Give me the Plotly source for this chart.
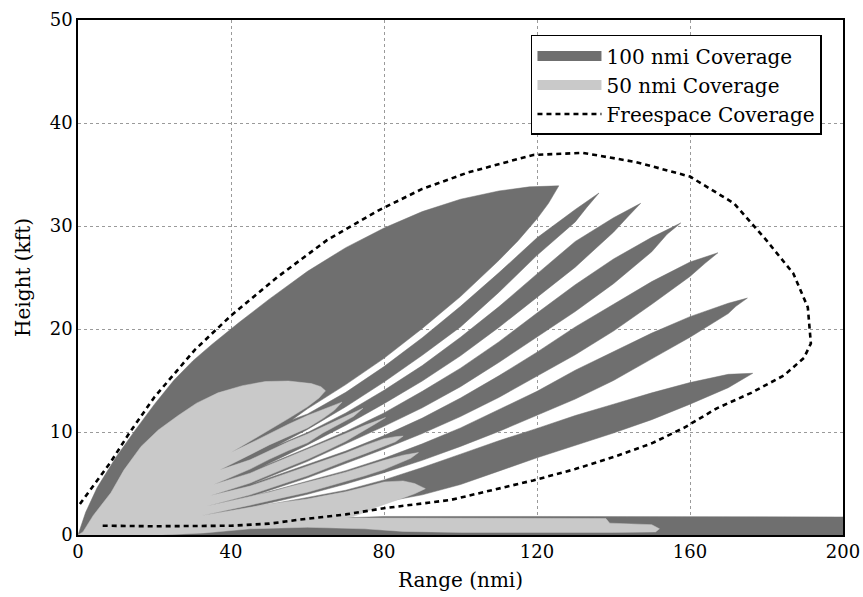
import plotly.graph_objects as go

# ---------------- data (Range nmi, Height kft) ----------------
# 100 nmi coverage lobes (dark): upper edges (increasing range) and lower edges (tip back to null apex)
D1_UP = [(0,0),(2,2.2),(5,4.6),(10,7.6),(15,10.2),(20,12.7),(25,15.0),(30,16.9),(35,18.5),(42,20.6),
         (50,22.9),(60,25.6),(70,27.9),(80,29.8),(90,31.4),(100,32.6),(110,33.4),(118,33.8),(125.7,33.9)]
D1_LO = [(125.7,33.9),(123,32.2),(120,30.7),(115,28.55),(110,26.65),(100,23.15),(90,20.05),(80,17.15),
         (70,14.6),(60,12.25),(56,11.2)]
D2_UP = [(56,11.2),(60,11.75),(70,13.85),(80,16.35),(90,19.15),(100,22.2),(110,25.45),(120,28.85),(130,31.6),(136.2,33.2)]
D2_LO = [(136.2,33.2),(133,31.8),(130,30.4),(120,27.15),(110,23.55),(100,20.2),(90,17.45),(80,14.85),(70,12.45),(60,10.25),(52,8.7)]
D3_UP = [(52,8.7),(60,9.95),(70,11.85),(80,14.05),(90,16.45),(100,19.2),(110,22.15),(120,25.35),(130,28.5),(140,30.8),(147.1,32.2)]
D3_LO = [(147.1,32.2),(144,31.0),(140,29.4),(130,26.0),(120,23.05),(110,20.15),(100,17.4),(90,14.95),(80,12.75),(70,10.65),(60,8.75),(48,6.6)]
D4_UP = [(48,6.6),(60,8.45),(70,10.05),(80,11.85),(90,13.95),(100,16.2),(110,18.75),(120,21.55),(130,24.3),(140,26.8),(150,28.9),(157.6,30.3)]
D4_LO = [(157.6,30.3),(154,29.2),(150,27.5),(140,24.4),(130,21.7),(120,19.25),(110,16.75),(100,14.4),(90,12.35),(80,10.55),(70,8.85),(60,7.15),(45,4.9)]
D5_UP = [(45,4.9),(60,6.85),(70,8.15),(80,9.65),(90,11.35),(100,13.3),(110,15.45),(120,17.75),(130,20.2),(140,22.4),(150,24.6),(160,26.5),(167.3,27.4)]
D5_LO = [(167.3,27.4),(164,26.4),(160,25.1),(150,22.4),(140,19.8),(130,17.5),(120,15.45),(110,13.35),(100,11.5),(90,9.85),(80,8.35),(70,6.95),(60,5.55),(44,3.6)]
D6_UP = [(44,3.6),(60,5.25),(70,6.25),(80,7.45),(90,8.85),(100,10.4),(110,12.15),(120,13.95),(130,16.0),(140,17.8),(150,19.6),(160,21.2),(170,22.5),(175,23.0)]
D6_LO = [(175,23.0),(172,22.2),(170,21.5),(160,19.2),(150,17.1),(140,15.0),(130,13.2),(120,11.65),(110,10.05),(100,8.6),(90,7.25),(80,6.05),(70,4.95),(60,3.95),(43,2.5)]
D7_UP = [(43,2.5),(60,3.65),(70,4.35),(80,5.35),(90,6.55),(100,7.85),(110,9.15),(120,10.35),(130,11.6),(140,12.7),(150,13.8),(160,14.8),(170,15.6),(176.4,15.7)]
D7_LO = [(176.4,15.7),(174,15.2),(170,14.3),(160,12.7),(150,11.2),(140,9.9),(130,8.7),(120,7.5),(110,6.2),(100,4.9),(90,3.9),(80,3.2),(70,2.6),(60,2.1),(45,1.5)]
D_GROUND = [(45,1.5),(50,1.4),(60,1.55),(70,1.7),(80,1.8),(120,1.8),(160,1.78),(200,1.75),(200,0),(0,0)]

# 50 nmi coverage lobes (light)
L1_UP = [(0,0),(1.3,0.3),(4,1.9),(8.6,4.1),(12,6.3),(16.5,8.6),(21,10.2),(26.2,11.6),(31,12.8),(36.6,13.8),
         (43,14.5),(49,14.9),(55,14.95),(61,14.7),(63.5,14.4),(64.7,14.0)]
L1_LO = [(64.7,14.0),(63,13.3),(60,12.45),(55,11.3),(50,10.2),(45,9.1),(40,8.0)]
L2_UP = [(40,8.0),(45,8.9),(50,9.85),(55,10.75),(60,11.6),(64,12.2),(67,12.6),(69,12.9)]
L2_LO = [(69,12.9),(67,12.1),(64,11.3),(60,10.4),(55,9.6),(50,8.75),(45,7.8),(37,6.3)]
L3_UP = [(37,6.3),(45,7.3),(50,8.2),(55,9.05),(60,9.8),(65,10.65),(70,11.5),(74.5,12.3)]
L3_LO = [(74.5,12.3),(72,11.5),(68,10.7),(64,9.9),(60,8.95),(55,8.2),(50,7.35),(45,6.4),(35.5,4.9)]
L4_UP = [(35.5,4.9),(45,6.0),(50,6.8),(55,7.55),(60,8.3),(65,9.1),(70,9.85),(75,10.65),(78,11.1),(80.4,11.4)]
L4_LO = [(80.4,11.4),(78,10.85),(75,10.2),(70,9.1),(65,8.2),(60,7.35),(55,6.6),(50,5.85),(45,5.05),(34.5,3.8)]
L5_UP = [(34.5,3.8),(45,4.75),(50,5.4),(55,6.05),(60,6.7),(65,7.3),(70,7.95),(75,8.7),(80,9.35),(83,9.55),(85,9.6)]
L5_LO = [(85,9.6),(83,9.05),(80,8.6),(75,7.9),(70,7.2),(65,6.5),(60,5.75),(55,5.15),(50,4.5),(45,3.9),(33.5,2.8)]
L6_UP = [(33.5,2.8),(45,3.7),(50,4.15),(55,4.65),(60,5.1),(65,5.6),(70,6.1),(75,6.7),(80,7.25),(85,7.75),(89,8.0)]
L6_LO = [(89,8.0),(87,7.45),(84,6.95),(80,6.35),(75,5.75),(70,5.2),(65,4.65),(60,4.15),(55,3.75),(50,3.3),(45,2.9),(32.5,1.9)]
L7_UP = [(32.5,1.9),(45,2.7),(50,3.0),(55,3.25),(60,3.5),(65,3.85),(70,4.2),(75,4.65),(80,5.15),(85,5.25),(88,5.0),(90.8,4.5)]
L7_LO = [(90.8,4.5),(88,4.0),(85,3.6),(82,3.2),(78,2.7),(75,2.2),(72,1.8),(70,1.65)]
L_GROUND = [(70,1.65),(100,1.62),(138,1.6),(139,1.15),(150,1.0),(152,0.6),(151,0.3),(140,0.25),(100,0.25),
            (85,0.35),(75,0.6),(60,0.75),(45,0.6),(33,0.2),(22,0.0),(0,0)]

# Freespace coverage contour (dashed)
FREESPACE = [(0.5,3.0),(1.3,3.4),(8.4,7.0),(13.6,10.0),(20,13.4),(30.6,18.0),(40,21.3),(52,25.0),(65,28.6),
             (78.5,31.5),(90,33.6),(102,35.2),(119,36.9),(132,37.1),(146,36.2),(160,34.8),(171.5,32.2),
             (180,28.6),(187,25.4),(190.8,22.1),(191.6,18.6),(189.8,17.2),(184.6,15.5),(176,13.8),(167,12.3),
             (158.4,10.4),(150,8.9),(141,7.7),(130,6.4),(119,5.3),(110,4.5),(97.4,3.4),(80,2.6),(70,2.0),
             (58,1.5),(50,1.1),(40,0.9),(20,0.85),(6.3,0.9)]

X_TICKS = [0, 40, 80, 120, 160, 200]
Y_TICKS = [0, 10, 20, 30, 40, 50]

SERIES_NAMES = ["100 nmi Coverage", "50 nmi Coverage", "Freespace Coverage"]

# ---------------- build outlines ----------------
def chain(*parts):
    pts = []
    for p in parts:
        pts.extend(p)
    return [q[0] for q in pts], [q[1] for q in pts]

dark_r, dark_h = chain(D1_UP, D1_LO, D2_UP, D2_LO, D3_UP, D3_LO, D4_UP, D4_LO,
                       D5_UP, D5_LO, D6_UP, D6_LO, D7_UP, D7_LO, D_GROUND)
light_r, light_h = chain(L1_UP, L1_LO, L2_UP, L2_LO, L3_UP, L3_LO, L4_UP, L4_LO,
                         L5_UP, L5_LO, L6_UP, L6_LO, L7_UP, L7_LO, L_GROUND)
fs_r, fs_h = chain(FREESPACE)

DARK = "#6f6f6f"
LIGHT = "#c9c9c9"
FONT = "DejaVu Serif"

fig = go.Figure()
fig.add_trace(go.Scatter(x=dark_r, y=dark_h, mode="lines", fill="toself", fillcolor=DARK,
                         line=dict(color=DARK, width=0.5), name=SERIES_NAMES[0],
                         legendgroup="d", showlegend=False, hoverinfo="skip"))
fig.add_trace(go.Scatter(x=light_r, y=light_h, mode="lines", fill="toself", fillcolor=LIGHT,
                         line=dict(color=LIGHT, width=0.5), name=SERIES_NAMES[1],
                         legendgroup="l", showlegend=False, hoverinfo="skip"))
fig.add_trace(go.Scatter(x=fs_r, y=fs_h, mode="lines", line=dict(color="black", width=2.6, dash="5px,4px"),
                         name=SERIES_NAMES[2], showlegend=False, legendgroup="f", hoverinfo="skip"))
# legend swatches (no data of their own)
fig.add_trace(go.Scatter(x=[None], y=[None], mode="lines", line=dict(color=DARK, width=22),
                         name=SERIES_NAMES[0], legendgroup="d"))
fig.add_trace(go.Scatter(x=[None], y=[None], mode="lines", line=dict(color=LIGHT, width=22),
                         name=SERIES_NAMES[1], legendgroup="l"))
fig.add_trace(go.Scatter(x=[None], y=[None], mode="lines", line=dict(color="black", width=2.6, dash="5px,4px"),
                         name=SERIES_NAMES[2], legendgroup="f"))

axis_common = dict(showline=True, mirror=True, linecolor="black", linewidth=1.5,
                   showgrid=True, gridcolor="#9a9a9a", gridwidth=1, griddash="dot",
                   zeroline=False, ticks="", automargin=False,
                   tickfont=dict(family=FONT, size=18, color="black"))

fig.update_layout(
    width=863, height=597,
    margin=dict(l=78, r=20, t=20, b=62),
    paper_bgcolor="white", plot_bgcolor="white",
    font=dict(family=FONT, color="black"),
    showlegend=True,
    legend=dict(x=0.9725, y=0.971, xanchor="right", yanchor="top",
                bgcolor="white", bordercolor="black", borderwidth=1.5,
                font=dict(family=FONT, size=20, color="black"),
                itemwidth=64, tracegroupgap=0),
    xaxis=dict(range=[0, 200], tickvals=X_TICKS, ticktext=[str(v) for v in X_TICKS],
               title=dict(text="Range (nmi)", font=dict(family=FONT, size=20), standoff=12), **axis_common),
    yaxis=dict(range=[0, 50], tickvals=Y_TICKS, ticktext=[str(v) for v in Y_TICKS],
               title=dict(text="Height (kft)", font=dict(family=FONT, size=20), standoff=14), **axis_common),
)

fig.write_html("out.html", config={"displayModeBar": False},
               post_script="document.body.style.margin='0';document.body.style.overflow='hidden';")
